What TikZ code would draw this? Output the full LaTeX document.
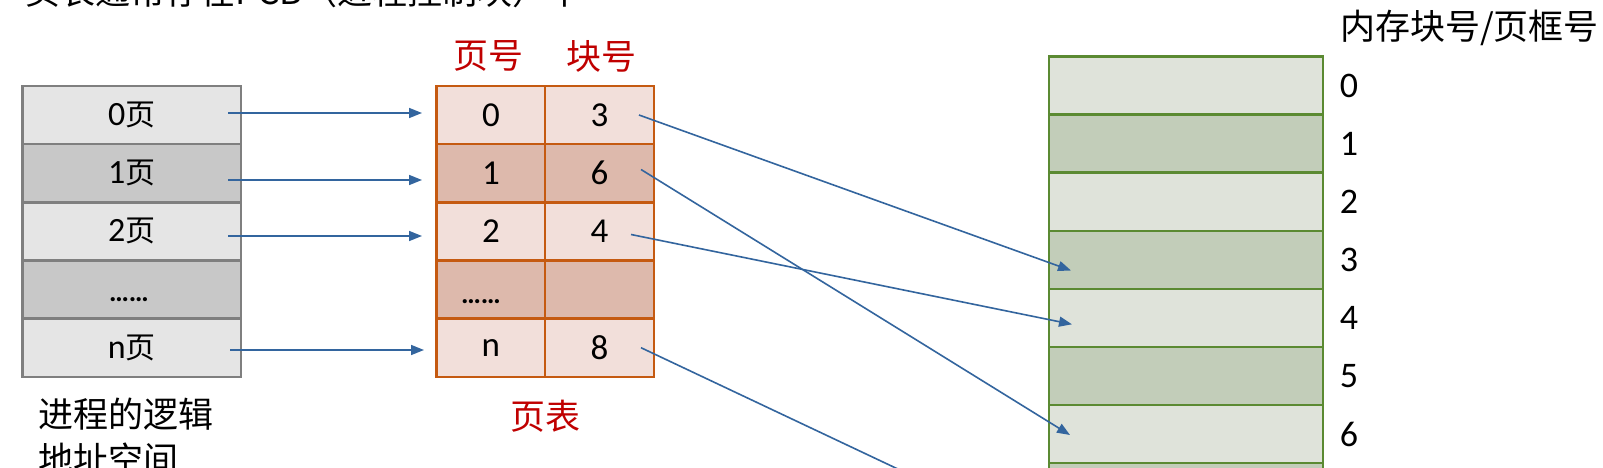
\documentclass[tikz,border=0pt]{standalone}
\usepackage{fontspec}
\setmainfont{Carlito}
\newfontfamily\cjk{Noto Sans CJK SC}
\usetikzlibrary{arrows.meta}
\definecolor{glight}{HTML}{E5E5E5}
\definecolor{gdark}{HTML}{C8C8C8}
\definecolor{gborder}{HTML}{7F7F7F}
\definecolor{plight}{HTML}{F2DFDA}
\definecolor{pdark}{HTML}{DDB9AC}
\definecolor{pborder}{HTML}{C55A11}
\definecolor{mlight}{HTML}{DFE3DA}
\definecolor{mdark}{HTML}{C2CDB9}
\definecolor{mborder}{HTML}{5B8A32}
\definecolor{arrowblue}{HTML}{33659E}
\definecolor{labelred}{HTML}{C00000}
\newcommand{\yeZH}{{\cjk\fontsize{30}{35}\selectfont 页}}
\tikzset{
  lcell/.style={draw=gborder, line width=2.5pt, minimum width=218.5pt, minimum height=58.24pt, inner sep=0pt, font=\fontsize{34}{40}\selectfont},
  pcell/.style={draw=pborder, line width=2.5pt, minimum width=108.75pt, minimum height=58.24pt, inner sep=0pt, font=\fontsize{35}{40}\selectfont},
  mcell/.style={draw=mborder, line width=2.5pt, minimum width=274pt, minimum height=58.1pt, inner sep=0pt},
  mlabel/.style={inner sep=0pt, font=\fontsize{36}{42}\selectfont},
  zhlabel/.style={inner sep=0pt, font=\cjk\fontsize{35}{45}\selectfont},
  redlabel/.style={zhlabel, text=labelred},
  dotstext/.style={inner sep=0pt, anchor=base, font=\bfseries\fontsize{28}{34}\selectfont},
  arr/.style={draw=arrowblue, line width=1.6pt, -{Triangle[length=13pt,width=10pt]}}
}
\begin{document}
\begin{tikzpicture}[x=1pt,y=-1pt]
\useasboundingbox (0,0) rectangle (1603,468);
\fill[white] (0,0) rectangle (1603,468);

% cut-off title
\node[zhlabel, anchor=base west] (title) at (25,5) {页表通常存在PCB（进程控制块）中};

% logical address space
\node[lcell, fill=glight] (L0) at (131.75,115.0) {0\yeZH};
\node[lcell, fill=gdark]  (L1) at (131.75,173.25) {1\yeZH};
\node[lcell, fill=glight] (L2) at (131.75,231.45) {2\yeZH};
\node[lcell, fill=gdark]  (L3) at (131.75,289.65) {};
\node[lcell, fill=glight] (L4) at (131.75,347.85) {n\yeZH};
\node[dotstext] (Ldots) at (129,301) {……};
\node[zhlabel, anchor=base west, align=left] (Lcap) at (38,472) {进程的逻辑\\地址空间};

% page table
\node[redlabel] (hPage) at (488,56) {页号};
\node[redlabel] (hBlock) at (601,56) {块号};
\node[pcell, fill=plight] (P0a) at (490.9,115.0) {0};
\node[pcell, fill=plight] (P0b) at (599.6,115.0) {3};
\node[pcell, fill=pdark]  (P1a) at (490.9,173.25) {1};
\node[pcell, fill=pdark]  (P1b) at (599.6,173.25) {6};
\node[pcell, fill=plight] (P2a) at (490.9,231.45) {2};
\node[pcell, fill=plight] (P2b) at (599.6,231.45) {4};
\node[pcell, fill=pdark]  (P3a) at (490.9,289.65) {};
\node[pcell, fill=pdark]  (P3b) at (599.6,289.65) {};
\node[pcell, fill=plight] (P4a) at (490.9,347.85) {n};
\node[pcell, fill=plight] (P4b) at (599.6,347.85) {8};
\node[dotstext] (Pdots) at (481,303) {……};
\node[redlabel] (ptcap) at (545,416) {页表};

% memory
\node[zhlabel, anchor=west] (mcap) at (1340,28) {内存块号/页框号};
\node[mcell, fill=mlight] (M0) at (1186,85.55) {};
\node[mcell, fill=mdark]  (M1) at (1186,143.65) {};
\node[mcell, fill=mlight] (M2) at (1186,201.75) {};
\node[mcell, fill=mdark]  (M3) at (1186,259.85) {};
\node[mcell, fill=mlight] (M4) at (1186,317.95) {};
\node[mcell, fill=mdark]  (M5) at (1186,376.05) {};
\node[mcell, fill=mlight] (M6) at (1186,434.15) {};
\node[mcell, fill=mdark]  (M7) at (1186,492.25) {};
\node[mcell, fill=mlight] (M8) at (1186,550.35) {};
\node[mlabel] (n0) at (1349,85.55) {0};
\node[mlabel] (n1) at (1349,143.65) {1};
\node[mlabel] (n2) at (1349,201.75) {2};
\node[mlabel] (n3) at (1349,259.85) {3};
\node[mlabel] (n4) at (1349,317.95) {4};
\node[mlabel] (n5) at (1349,376.05) {5};
\node[mlabel] (n6) at (1349,434.15) {6};

% connector end points
\coordinate (a0s) at (228,113);
\coordinate (a0e) at (422,113);
\coordinate (a1s) at (228,180);
\coordinate (a1e) at (422,180);
\coordinate (a2s) at (228,236);
\coordinate (a2e) at (422,236);
\coordinate (a4s) at (230,350);
\coordinate (a4e) at (424,350);
\coordinate (b0s) at (639,115);
\coordinate (b0e) at (1071,270.5);
\coordinate (b1s) at (641,169.5);
\coordinate (b1e) at (1070,435);
\coordinate (b2s) at (631,234.5);
\coordinate (b2e) at (1072,324.3);
\coordinate (b4s) at (641,347.7);
\coordinate (b4e) at (1071,550.8);

\draw[arr] (a0s) -- (a0e);
\draw[arr] (a1s) -- (a1e);
\draw[arr] (a2s) -- (a2e);
\draw[arr] (a4s) -- (a4e);
\draw[arr] (b0s) -- (b0e);
\draw[arr] (b1s) -- (b1e);
\draw[arr] (b2s) -- (b2e);
\draw[arr] (b4s) -- (b4e);
\end{tikzpicture}
\end{document}
